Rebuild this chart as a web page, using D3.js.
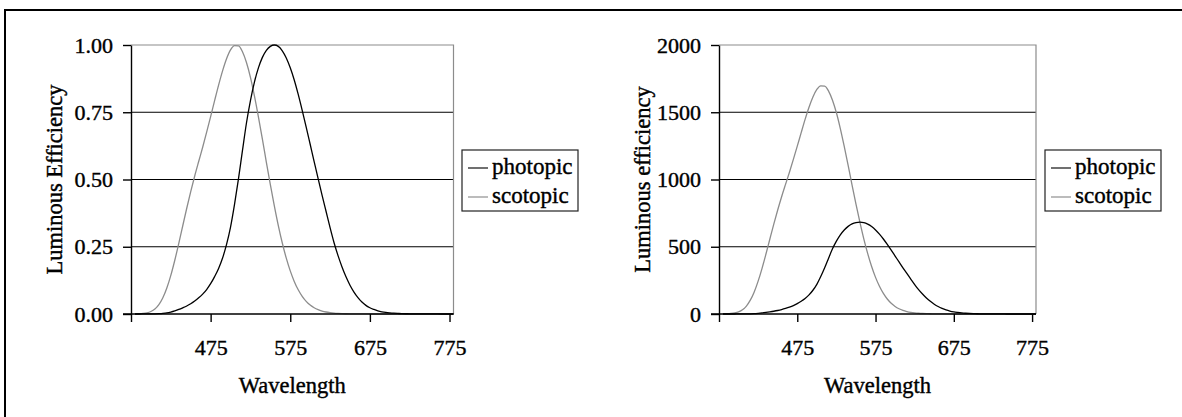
<!DOCTYPE html>
<html>
<head>
<meta charset="utf-8">
<script src="https://cdn.jsdelivr.net/npm/d3@7"></script>
<style>
body { margin: 0; background: #fff; }
svg { display: block; font-family: "Liberation Serif", "Times New Roman", serif; }
svg text { stroke: #000; stroke-width: 0.4px; }
</style>
</head>
<body>
<svg id="chart" width="1182" height="417"></svg>
<script>
// wavelengths in nm, 5 nm steps
var wavelengths = [380,385,390,395,400,405,410,415,420,425,430,435,440,445,450,455,460,465,470,475,
	480,485,490,495,500,505,510,515,520,525,530,535,540,545,550,555,560,565,570,575,
	580,585,590,595,600,605,610,615,620,625,630,635,640,645,650,655,660,665,670,675,
	680,685,690,695,700,705,710,715,720,725,730,735,740,745,750,755,760,765,770,775,780];

// relative luminous efficiency (left chart)
var photopic = [0.00004,0.00006,0.00012,0.00022,0.0004,0.00064,0.0012,0.0022,0.004,0.0073,
	0.0116,0.0168,0.023,0.0298,0.038,0.048,0.06,0.0739,0.091,0.1126,
	0.139,0.1693,0.208,0.2586,0.323,0.4073,0.503,0.6082,0.71,0.7932,
	0.862,0.9149,0.954,0.9803,0.995,1.0,0.995,0.9786,0.952,0.9154,
	0.87,0.8163,0.757,0.6949,0.631,0.5668,0.503,0.4412,0.381,0.321,
	0.265,0.217,0.175,0.1382,0.107,0.0816,0.061,0.0446,0.032,0.0232,
	0.017,0.0119,0.0082,0.0057,0.0041,0.0029,0.0021,0.0015,0.001,0.0007,
	0.0005,0.0004,0.0002,0.0002,0.0001,0.0001,0.0001,0,0,0,0];
var scotopic = [0.0006,0.0011,0.0022,0.0045,0.0093,0.0185,0.0348,0.0604,0.0966,0.1436,
	0.1998,0.2625,0.3281,0.3931,0.455,0.513,0.567,0.62,0.676,0.734,
	0.793,0.851,0.904,0.949,0.982,0.998,0.997,0.975,0.935,0.88,
	0.811,0.733,0.65,0.564,0.481,0.402,0.3288,0.2639,0.2076,0.1602,
	0.1212,0.0899,0.0655,0.0469,0.0332,0.0231,0.0159,0.0109,0.0074,0.005,
	0.0033,0.0022,0.0015,0.001,0.0007,0.0005,0.0003,0.0002,0.0001,0.0001,
	0,0,0,0,0,0,0,0,0,0,0,0,0,0,0,0,0,0,0,0,0];

// luminous efficiency in lm/W (right chart)
var photopicLm = [0.03,0.04,0.08,0.15,0.27,0.44,0.83,1.5,2.7,5.0,
	7.9,11.5,15.7,20.4,26.0,32.8,41.0,50.5,62.1,76.9,
	95.0,115.6,142.1,176.6,220.6,278.2,343.5,415.4,484.9,541.8,
	588.7,624.9,651.6,669.5,679.6,683.0,679.6,668.4,650.2,625.2,
	594.2,557.5,517.0,474.6,431.0,387.1,343.5,301.3,260.2,219.2,
	181.0,148.2,119.5,94.4,73.1,55.7,41.7,30.4,21.9,15.8,
	11.6,8.1,5.6,3.9,2.8,2.0,1.4,1.0,0.7,0.5,
	0.4,0.3,0.2,0.1,0.1,0.1,0,0,0,0,0];
var scotopicLm = [1.0,1.9,3.8,7.7,15.8,31.5,59.2,102.7,164.2,244.1,
	339.7,446.3,557.8,668.3,773.5,872.1,963.9,1054.0,1149.2,1247.8,
	1348.1,1446.7,1536.8,1613.3,1669.4,1696.6,1694.9,1657.5,1589.5,1496.0,
	1378.7,1246.1,1105.0,958.8,817.7,683.4,559.0,448.6,352.9,272.3,
	206.0,152.8,111.4,79.7,56.4,39.3,27.1,18.5,12.5,8.4,
	5.7,3.8,2.5,1.7,1.2,0.8,0.5,0.4,0.3,0.2,
	0.1,0.1,0.1,0,0,0,0,0,0,0,0,0,0,0,0,0,0,0,0,0,0];

var seriesNames = ["photopic", "scotopic"];
var seriesColours = ["#000000", "#8c8c8c"];
var legendColours = ["#333333", "#a0a0a0"];

var xTicks = [375, 475, 575, 675, 775];
var xDomain = [375, 780];
var yTicksLeft = [0, 0.25, 0.5, 0.75, 1];
var yTicksRight = [0, 500, 1000, 1500, 2000];

var svg = d3.select("#chart");

// outer frame (only top and left edges are inside the picture)
svg.append("path")
	.attr("d", "M5,420 L5,10 L1190,10")
	.attr("fill", "none")
	.attr("stroke", "#000")
	.attr("stroke-width", 2);

function drawPanel(p) { // draws one chart with axes, gridlines, curves and legend
	var g = svg.append("g");

	var x = d3.scaleLinear().domain(xDomain).range([p.left, p.right]);
	var y = d3.scaleLinear().domain([0, p.yTicks[p.yTicks.length - 1]]).range([p.bottom, p.top]);

	// gridlines
	g.selectAll(".grid")
		.data(p.yTicks.slice(1, -1))
		.enter().append("line")
		.attr("x1", p.left).attr("x2", p.right)
		.attr("y1", function(d) { return y(d); })
		.attr("y2", function(d) { return y(d); })
		.attr("stroke", "#000")
		.attr("stroke-width", 1);

	// plot area border, top and right in grey
	g.append("path")
		.attr("d", "M" + p.left + "," + y(p.yTicks[p.yTicks.length - 1]) + " L" + p.right + "," + p.top + " L" + p.right + "," + p.bottom)
		.attr("fill", "none")
		.attr("stroke", "#8c8c8c")
		.attr("stroke-width", 1.2);

	// curves
	var line = d3.line()
		.x(function(d) { return x(d[0]); })
		.y(function(d) { return y(d[1]); })
		.curve(d3.curveMonotoneX);

	[p.series[1], p.series[0]].forEach(function(values, k) {
		var i = 1 - k;
		g.append("path")
			.datum(wavelengths.map(function(w, j) { return [w, values[j]]; }))
			.attr("d", line)
			.attr("fill", "none")
			.attr("stroke", seriesColours[i])
			.attr("stroke-width", 1.3);
	});

	// axes
	var yAxis = d3.axisLeft(y)
		.tickValues(p.yTicks)
		.tickSize(8)
		.tickSizeOuter(0)
		.tickPadding(10)
		.tickFormat(p.yFormat);

	var xAxis = d3.axisBottom(x)
		.tickValues(xTicks)
		.tickSize(8)
		.tickSizeOuter(0)
		.tickPadding(17)
		.tickFormat(function(d) { return d == 375 ? "" : d; });

	var ya = g.append("g")
		.attr("transform", "translate(" + p.left + ",0)")
		.call(yAxis);
	var xa = g.append("g")
		.attr("transform", "translate(0," + p.bottom + ")")
		.call(xAxis);

	[ya, xa].forEach(function(a) {
		a.select(".domain").attr("stroke", "#000").attr("stroke-width", 1.4);
		a.selectAll(".tick line").attr("stroke", "#000").attr("stroke-width", 1.4);
		a.selectAll("text")
			.attr("fill", "#000")
			.style("font-family", "Liberation Serif")
			.style("font-size", "22px");
	});
	xa.select(".domain").attr("d", "M" + (p.left - 8) + ",0H" + p.right);

	// axis titles
	g.append("text")
		.attr("x", (p.left + p.right) / 2)
		.attr("y", 393)
		.attr("text-anchor", "middle")
		.style("font-size", "22.5px")
		.text("Wavelength");

	g.append("text")
		.attr("transform", "translate(" + (p.left - 69) + "," + (p.top + p.bottom) / 2 + ") rotate(-90)")
		.attr("text-anchor", "middle")
		.style("font-size", "22.5px")
		.text(p.yTitle);

	// legend
	var lg = g.append("g").attr("transform", "translate(" + p.legendX + ",150)");
	lg.append("rect")
		.attr("x", 0).attr("y", 0)
		.attr("width", 116).attr("height", 61)
		.attr("fill", "#fff")
		.attr("stroke", "#222")
		.attr("stroke-width", 1.2);

	var item = lg.selectAll(".item")
		.data(seriesNames)
		.enter().append("g")
		.attr("transform", function(d, i) { return "translate(0," + (24 + i * 29) + ")"; });

	item.append("line")
		.attr("x1", 6).attr("x2", 26)
		.attr("y1", -6).attr("y2", -6)
		.attr("stroke", function(d, i) { return legendColours[i]; })
		.attr("stroke-width", 1.4);

	item.append("text")
		.attr("x", 30)
		.attr("y", 0)
		.style("font-size", "23px")
		.text(function(d) { return d; });
}

drawPanel({
	left: 131, right: 453.5, top: 45, bottom: 314,
	yTicks: yTicksLeft,
	yFormat: d3.format(".2f"),
	yTitle: "Luminous Efficiency",
	series: [photopic, scotopic],
	legendX: 462
});

drawPanel({
	left: 719, right: 1036, top: 45, bottom: 314,
	yTicks: yTicksRight,
	yFormat: d3.format("d"),
	yTitle: "Luminous efficiency",
	series: [photopicLm, scotopicLm],
	legendX: 1045
});
</script>
</body>
</html>
